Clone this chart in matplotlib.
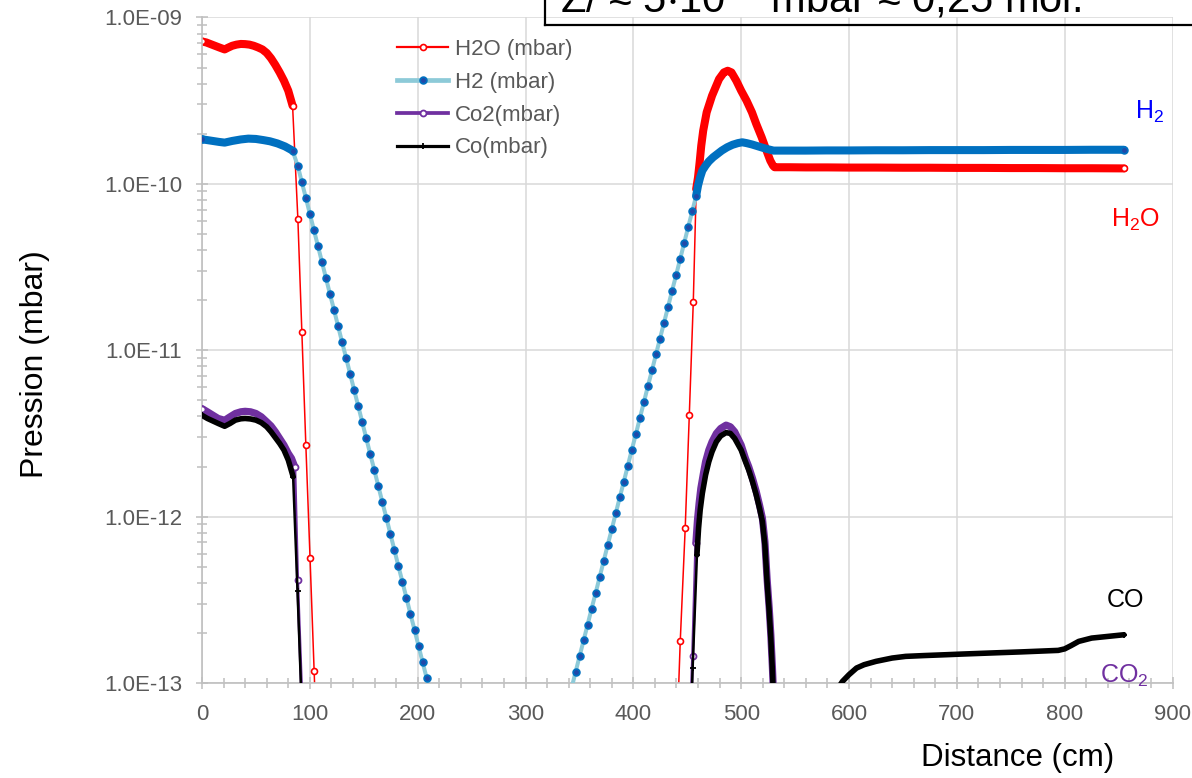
import numpy as np
import matplotlib
matplotlib.use("Agg")
import matplotlib.pyplot as plt
from matplotlib.lines import Line2D
from matplotlib.ticker import FuncFormatter, LogLocator, MultipleLocator, NullFormatter

plt.rcParams["font.family"] = ["Liberation Sans", "DejaVu Sans"]
plt.rcParams["mathtext.fontset"] = "custom"
plt.rcParams["mathtext.rm"] = "Liberation Sans"
plt.rcParams["mathtext.it"] = "Liberation Sans:italic"

# =========================
# Data: distance (cm) and log10 of pressure (mbar)
# =========================

h2o_x = [0, 4, 8, 12, 16, 21, 24, 28, 32, 36, 40, 44, 48, 52, 56, 60, 64, 68, 72, 76, 80, 84,
         88.9, 92.6, 96.3, 100.2, 104.0, 107.8,
         439.8, 443.5, 448.1, 451.9, 455.6,
         458.3, 460.0, 461.5, 463.0, 464.8, 468.0, 473.0, 479.5, 484.0, 487.5, 491.0, 495.5,
         500.0, 505.0, 510.0, 514.0, 519.0, 523.5, 527.0, 529.5, 531.0,
         545, 560, 580, 600, 625, 650, 675, 700, 725, 750, 775, 800, 825, 855]
h2o_log = [-9.144, -9.150, -9.160, -9.170, -9.180, -9.192, -9.182, -9.170, -9.163, -9.159, -9.160,
           -9.163, -9.170, -9.180, -9.192, -9.213, -9.245, -9.285, -9.330, -9.380, -9.440, -9.530,
           -10.21, -10.89, -11.57, -12.25, -12.93, -13.61,
           -13.43, -12.75, -12.07, -11.39, -10.71,
           -10.03, -9.96, -9.87, -9.77, -9.68, -9.57, -9.47, -9.37, -9.33, -9.32, -9.33, -9.38,
           -9.44, -9.50, -9.57, -9.64, -9.72, -9.80, -9.86, -9.89, -9.90,
           -9.900, -9.901, -9.901, -9.902, -9.902, -9.903, -9.903, -9.904, -9.904, -9.905, -9.905,
           -9.906, -9.906, -9.907]

h2_x = [0, 8, 16, 21, 28, 36, 43, 50, 57, 63, 70, 77, 84,
        88.9, 92.6, 96.4, 100.1, 103.8, 107.6, 111.3, 115.0, 118.7, 122.5,
        126.2, 129.9, 133.7, 137.4, 141.1, 144.9, 148.6, 152.3, 156.0, 159.8,
        163.5, 167.2, 171.0, 174.7, 178.4, 182.1, 185.9, 189.6, 193.3, 197.1,
        200.8, 204.5, 208.3, 212.0,
        342.7, 346.4, 350.1, 353.9, 357.6, 361.3, 365.1, 368.8, 372.5, 376.2,
        380.0, 383.7, 387.4, 391.2, 394.9, 398.6, 402.4, 406.1, 409.8, 413.5,
        417.3, 421.0, 424.7, 428.5, 432.2, 435.9, 439.7, 443.4, 447.1, 450.8, 454.6,
        458.3, 460, 462, 464, 467, 470, 474, 478, 482, 487, 492, 497, 501, 505, 510, 515, 520, 525, 530,
        545, 560, 580, 600, 625, 650, 675, 700, 725, 750, 775, 800, 825, 855]
h2_log = [-9.732, -9.740, -9.748, -9.752, -9.742, -9.733, -9.728, -9.730, -9.737, -9.744, -9.757, -9.775, -9.800,
          -9.894, -9.990, -10.086, -10.182, -10.278, -10.375, -10.471, -10.567, -10.663, -10.759,
          -10.855, -10.951, -11.047, -11.143, -11.239, -11.336, -11.432, -11.528, -11.624, -11.720,
          -11.816, -11.912, -12.008, -12.104, -12.200, -12.297, -12.393, -12.489, -12.585, -12.681,
          -12.777, -12.873, -12.969, -13.065,
          -13.031, -12.935, -12.840, -12.744, -12.649, -12.553, -12.458, -12.362, -12.267, -12.171,
          -12.076, -11.980, -11.885, -11.789, -11.694, -11.598, -11.503, -11.407, -11.312, -11.216,
          -11.121, -11.025, -10.930, -10.834, -10.739, -10.643, -10.548, -10.452, -10.357, -10.261, -10.166,
          -10.07, -10.01, -9.96, -9.92, -9.89, -9.865, -9.84, -9.82, -9.80, -9.78, -9.765, -9.755, -9.75,
          -9.755, -9.763, -9.773, -9.783, -9.792, -9.80,
          -9.800, -9.800, -9.799, -9.799, -9.798, -9.798, -9.797, -9.797, -9.797, -9.796, -9.796,
          -9.796, -9.795, -9.795]

co2_x = [0, 5, 10, 15, 21, 26, 31, 36, 40, 45, 50, 55, 60, 64, 68, 72, 76, 80, 83, 86,
         88.6, 92.4, 451.5,
         455.0, 458.0, 459.5, 461.0, 462.6, 465.0, 467.0, 470.0, 473.0, 477.0, 481.0, 486.0,
         490.0, 494.0, 497.0, 500.0, 504.0, 507.0, 510.5, 514.0, 517.0, 519.7, 522.0, 524.0,
         526.0, 527.5, 529.0, 530.5]
co2_log = [-11.351, -11.37, -11.39, -11.41, -11.421, -11.40, -11.38, -11.37, -11.367, -11.37,
           -11.38, -11.40, -11.43, -11.455, -11.49, -11.53, -11.57, -11.62, -11.65, -11.70,
           -12.38, -13.06, -13.52,
           -12.84, -12.16, -12.02, -11.92, -11.83, -11.74, -11.67, -11.60, -11.55, -11.50, -11.47, -11.45,
           -11.46, -11.49, -11.53, -11.57, -11.65, -11.70, -11.77, -11.85, -11.93, -12.01, -12.15, -12.37,
           -12.55, -12.71, -12.91, -13.15]

co_x = [0, 5, 10, 15, 21, 26, 31, 36, 40, 45, 50, 55, 60, 64, 68, 72, 76, 80, 84.5,
        88.6, 92.4, 451.5,
        455.0, 459.0, 460.5, 462.0, 464.0, 467.0, 470.0, 473.0, 477.0, 481.0, 486.0, 490.0,
        494.0, 497.0, 500.0, 504.0, 507.0, 510.5, 514.0, 517.0, 519.7, 522.0, 524.0, 526.0,
        527.5, 529.0, 530.5,
        590, 594, 600, 607, 614, 625, 640, 652.5, 670, 690, 705, 730, 760, 794, 800, 806,
        813, 825, 840, 855]
co_log = [-11.391, -11.41, -11.425, -11.44, -11.457, -11.44, -11.42, -11.412, -11.41, -11.413,
          -11.42, -11.435, -11.46, -11.49, -11.525, -11.56, -11.60, -11.66, -11.76,
          -12.45, -13.13, -13.59,
          -12.91, -12.23, -12.07, -11.96, -11.86, -11.75, -11.67, -11.61, -11.55, -11.515, -11.495, -11.50,
          -11.53, -11.565, -11.60, -11.67, -11.72, -11.79, -11.87, -11.95, -12.03, -12.17, -12.39, -12.57,
          -12.73, -12.93, -13.17,
          -13.03, -12.99, -12.95, -12.91, -12.89, -12.87, -12.85, -12.84, -12.835, -12.83, -12.826,
          -12.82, -12.813, -12.804, -12.795, -12.775, -12.75, -12.73, -12.72, -12.71]

labels = ["H2O (mbar)", "H2 (mbar)", "Co2(mbar)", "Co(mbar)"]

# =========================
# Styles (Excel look)
# =========================

series = [
    dict(x=h2o_x, y=h2o_log, line="#FF0000", lw=1.1, band="#FF0000", bw=5.8,
         dense=[(0, 84), (458.3, 855)], marker="o", ms=4.3, mfc="white", mec="#FF0000", mew=1.2),
    dict(x=h2_x, y=h2_log, line="#8DCAD8", lw=2.9, band="#0070C0", bw=5.8,
         dense=[(0, 84), (458.3, 855)], marker="o", ms=4.8, mfc="#2248A8", mec="#0070C0", mew=1.3),
    dict(x=co2_x, y=co2_log, line="#7030A0", lw=2.2, band="#7030A0", bw=5.2,
         dense=[(0, 86), (458, 530.5)], marker="o", ms=4.3, mfc="white", mec="#7030A0", mew=1.3),
    dict(x=co_x, y=co_log, line="#000000", lw=1.8, band="#000000", bw=4.0,
         dense=[(0, 84.5), (459, 530.5), (590, 855)], marker="+", ms=4.5, mfc="#000000", mec="#000000", mew=1.3),
]

fig = plt.figure(figsize=(11.92, 7.78), dpi=100)
ax = fig.add_axes([202 / 1192, 1 - 683 / 778, (1172.5 - 202) / 1192, (683 - 17.5) / 778])
ax.set_yscale("log")

handles = []
for i, s in enumerate(series):
    x = np.array(s["x"], dtype=float)
    p = 10.0 ** np.array(s["y"], dtype=float)
    z = 2 + i
    ax.plot(x, p, color=s["line"], lw=s["lw"], zorder=z)
    inside = np.zeros(len(x), dtype=bool)
    for lo, hi in s["dense"]:
        m = (x >= lo) & (x <= hi)
        ax.plot(x[m], p[m], color=s["band"], lw=s["bw"], solid_capstyle="round",
                solid_joinstyle="round", zorder=z)
        inside |= (x > lo) & (x < hi)
    ax.plot(x[~inside], p[~inside], ls="none", marker=s["marker"], ms=s["ms"],
            mfc=s["mfc"], mec=s["mec"], mew=s["mew"], zorder=z + 0.5)
    handles.append(Line2D([], [], color=s["line"], lw=s["lw"] + 0.5, marker=s["marker"],
                          ms=s["ms"], mfc=s["mfc"], mec=s["mec"], mew=s["mew"]))

ax.set_xlim(0, 900)
ax.set_ylim(1e-13, 1e-9)

ax.xaxis.set_major_locator(MultipleLocator(100))
ax.xaxis.set_minor_locator(MultipleLocator(20))
ax.yaxis.set_major_locator(LogLocator(base=10, numticks=10))
ax.yaxis.set_minor_locator(LogLocator(base=10, subs=np.arange(2, 10), numticks=10))
ax.yaxis.set_major_formatter(FuncFormatter(lambda v, pos: f"{v:.1E}"))
ax.yaxis.set_minor_formatter(NullFormatter())

grey = "#BFBFBF"
ax.tick_params(which="both", direction="inout", color=grey, width=1.1)
ax.tick_params(which="major", length=8.5, labelsize=16, labelcolor="#595959")
ax.tick_params(which="minor", length=7)
ax.tick_params(axis="y", which="major", pad=10)
ax.tick_params(axis="x", which="major", pad=11)
for side in ["top", "right"]:
    ax.spines[side].set_visible(False)
for side in ["left", "bottom"]:
    ax.spines[side].set_color(grey)
    ax.spines[side].set_linewidth(1.2)
ax.grid(True, which="major", color="#D9D9D9", lw=1.1, zorder=0)
ax.set_axisbelow(True)

fig.legend(handles, labels, loc="upper left", bbox_to_anchor=(397 / 1192, 1 - 39 / 778),
           frameon=False, fontsize=16, labelcolor="#595959", handlelength=2.3,
           handletextpad=0.3, labelspacing=0.53, borderpad=0, borderaxespad=0, numpoints=1)

# axis titles
fig.text(35 / 1192, 1 - 364 / 778, "Pression (mbar)", rotation=90, ha="center", va="center",
         fontsize=23, color="#000000")
fig.text(1018 / 1192, 1 - 758 / 778, "Distance (cm)", ha="center", va="center",
         fontsize=22.5, color="#000000")

# species labels
fig.text(1135 / 1192, 1 - 119 / 778, r"H$\mathregular{_2}$", fontsize=18, color="#0000FF", va="baseline")
fig.text(1111 / 1192, 1 - 227 / 778, r"H$\mathregular{_2}$O", fontsize=18, color="#FF0000", va="baseline")
fig.text(1107 / 1192, 1 - 607 / 778, "CO", fontsize=18, color="#000000", va="baseline")
fig.text(1100 / 1192, 1 - 683 / 778, r"CO$\mathregular{_2}$", fontsize=18, color="#7030A0", va="baseline")

# text box cut off at the top of the picture
fig.text(560 / 1192, 1 - 13 / 778, r"Z/ ≈ 5$\mathregular{\cdot10^{-9}}$ mbar ≈ 0,25 mol.",
         fontsize=30, color="#000000", va="baseline")
fig.add_artist(Line2D([545 / 1192, 545 / 1192], [1.0, 1 - 25 / 778], transform=fig.transFigure,
                      color="black", lw=1.6))
fig.add_artist(Line2D([545 / 1192, 1.0], [1 - 25 / 778, 1 - 25 / 778], transform=fig.transFigure,
                      color="black", lw=1.6))

fig.savefig("out.png", dpi=100)
